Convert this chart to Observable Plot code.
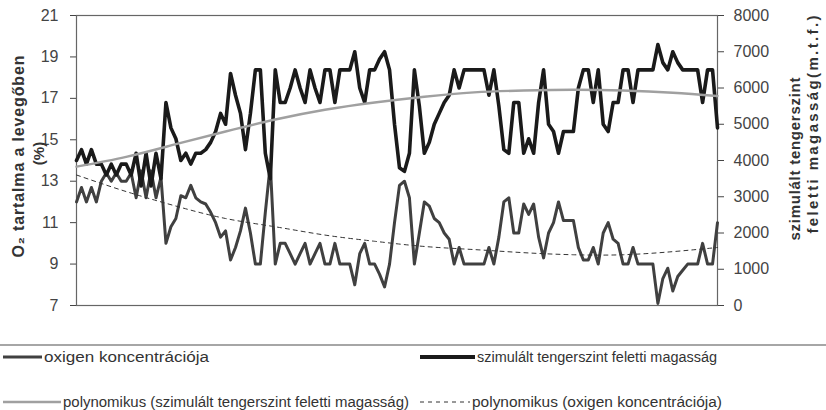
<!DOCTYPE html>
<html><head><meta charset="utf-8">
<script src="https://cdn.jsdelivr.net/npm/d3@7"></script>
<script src="https://cdn.jsdelivr.net/npm/@observablehq/plot@0.6"></script>
<style>
body{margin:0;background:#fff;font-family:"Liberation Sans",Arial,sans-serif;}
#wrap{position:relative;width:826px;height:410px;overflow:hidden;}
#chart{position:absolute;left:0;top:0;}
#legend{position:absolute;left:0;top:330px;}
</style></head><body>
<div id="wrap"><div id="chart"></div><svg id="legend" width="826" height="80"></svg></div>
<script>
// simulated altitude above sea level (m) — right axis
const altitude = [
4000,4300,3900,4300,3900,3900,3600,3900,3600,3900,
3900,3600,4200,3300,4200,3300,4200,3500,5600,4900,
4600,4000,4200,3900,4200,4200,4300,4500,4800,5300,
5000,6400,5800,5300,4300,5300,6500,6500,4200,3500,
6500,5600,5600,6000,6500,6000,5600,6500,6000,5600,
6500,6500,5600,6500,6500,6500,7000,6000,5600,6500,
6500,6800,7000,6500,5000,3800,3700,4200,6500,5500,
4200,4500,5000,5300,5600,5800,6500,6000,6500,6500,
6500,6500,6500,5800,6500,5500,4300,4200,5600,5600,
4200,4600,4200,5600,6500,5000,4800,4200,4800,4800,
4800,6000,6500,6500,5600,6500,5000,4800,5600,5600,
6500,6500,5600,6500,6500,6500,6500,7200,6700,6500,
7000,6700,6500,6500,6500,6500,5600,6500,6500,4900];
// oxygen concentration (%) — left axis
const oxygen = [
12.0,12.7,12.0,12.7,12.0,13.0,13.4,13.0,13.4,13.0,
13.0,13.4,12.2,13.5,12.2,13.5,12.2,13.2,10.0,10.8,
11.2,12.3,12.2,12.8,12.2,12.0,11.9,11.5,11.0,10.3,
10.6,9.2,9.8,10.6,11.7,10.5,9.0,9.0,11.5,13.8,
9.0,10.0,10.0,9.5,9.0,9.5,10.0,9.0,9.5,10.0,
9.0,9.0,10.0,9.0,9.0,9.0,8.0,9.5,10.0,9.0,
9.0,8.5,7.9,9.0,11.0,12.8,13.0,12.2,9.0,10.5,
12.0,11.8,11.2,11.0,10.5,10.2,9.0,9.8,9.0,9.0,
9.0,9.0,9.0,9.8,9.0,10.3,12.0,12.2,10.5,10.5,
11.9,11.4,11.9,10.3,9.3,10.5,11.0,12.0,11.1,11.1,
11.1,9.8,9.2,9.2,9.8,9.0,10.5,11.0,10.2,10.0,
9.0,9.0,9.8,9.0,9.0,9.0,9.0,7.1,8.3,8.8,
7.7,8.4,8.7,9.0,9.0,9.0,10.0,9.0,9.0,11.0];
// polynomial trend lines, read at sample positions
const trendIdx = [0,10,20,30,40,50,60,70,80,90,100,110,120,129];
const altTrend = [3830,4100,4450,4800,5130,5400,5600,5760,5880,5930,5950,5930,5870,5780];
const o2Trend = [13.3,12.5,11.8,11.2,10.8,10.4,10.1,9.85,9.7,9.55,9.45,9.45,9.6,9.8];
// tick labels
const leftTicks = [7,9,11,13,15,17,19,21];
const rightTicks = [0,1000,2000,3000,4000,5000,6000,7000,8000];
// texts
const leftTitle1 = "O₂ tartalma a levegőben";
const leftTitle2 = "(%)";
const rightTitle1 = "szimulált tengerszint";
const rightTitle2 = "feletti magasság(m.t.f.)";
const legendLabels = ["oxigen koncentrációja","szimulált tengerszint feletti magasság","polynomikus (szimulált tengerszint feletti magasság)","polynomikus (oxigen koncentrációja)"];

const ALT_MAX = 8000, Y0 = 7, Y1 = 21;
const toLeft = a => Y0 + a / ALT_MAX * (Y1 - Y0);
const rows = altitude.map((a, i) => ({i, alt: toLeft(a), o2: oxygen[i]}));
const trend = trendIdx.map((i, k) => ({i, alt: toLeft(altTrend[k]), o2: o2Trend[k]}));

const font = '"Liberation Sans", Arial, sans-serif';
const chart = Plot.plot({
  width: 826, height: 325,
  marginLeft: 76, marginRight: 109, marginTop: 15, marginBottom: 20,
  x: {domain: [0, altitude.length - 1], axis: null},
  y: {domain: [Y0, Y1], axis: null},
  style: {fontFamily: font, fontSize: "16px", color: "#444", background: "#fff", overflow: "visible"},
  marks: [
    Plot.frame({stroke: "#666", strokeWidth: 1.2}),
    Plot.axisY(leftTicks, {anchor: "left", tickSize: 6, tickPadding: 12, label: null, stroke: "#444", fill: "#444", fontSize: 16}),
    Plot.axisY(rightTicks.map(toLeft), {anchor: "right", tickSize: 6, tickPadding: 10, label: null, stroke: "#444", fill: "#444", fontSize: 16,
      tickFormat: d => String(Math.round((d - Y0) / (Y1 - Y0) * ALT_MAX))}),
    Plot.line(rows, {x: "i", y: "o2", stroke: "#404040", strokeWidth: 3}),
    Plot.line(rows, {x: "i", y: "alt", stroke: "#1a1a1a", strokeWidth: 3.6}),
    Plot.line(trend, {x: "i", y: "alt", stroke: "#a0a0a0", strokeWidth: 2.4, curve: "natural"}),
    Plot.line(trend, {x: "i", y: "o2", stroke: "#333", strokeWidth: 1, strokeDasharray: "4,4", curve: "natural"}),
    Plot.text([leftTitle1], {frameAnchor: "left", textAnchor: "middle", dx: -58, dy: -4, rotate: -90, fontWeight: "bold", fontSize: 16, fill: "#333", className: "lt1"}),
    Plot.text([leftTitle2], {frameAnchor: "left", textAnchor: "middle", dx: -37, dy: -7, rotate: -90, fontWeight: "bold", fontSize: 15, fill: "#333"}),
    Plot.text([rightTitle1], {frameAnchor: "right", dx: 78, dy: 80, rotate: -90, textAnchor: "start", fontWeight: "bold", fontSize: 15, fill: "#333", className: "rt1"}),
    Plot.text([rightTitle2], {frameAnchor: "right", dx: 96, dy: 73, rotate: -90, textAnchor: "start", fontWeight: "bold", fontSize: 15, fill: "#333", className: "rt2"})
  ]
});
document.getElementById("chart").appendChild(chart);
// stretch title texts to the reference's lengths
d3.select(chart).selectAll(".lt1 text").attr("textLength", 202).attr("lengthAdjust", "spacing");
d3.select(chart).selectAll(".rt1 text").attr("textLength", 163).attr("lengthAdjust", "spacing");
d3.select(chart).selectAll(".rt2 text").attr("textLength", 218).attr("lengthAdjust", "spacing");

// legend (below the svg)
const lg = d3.select("#legend");
lg.append("line").attr("x1", 0).attr("x2", 826).attr("y1", 15).attr("y2", 15).attr("stroke", "#888").attr("stroke-width", 1.5);
const items = [
  {x: 3, w: 39, y: 27, stroke: "#404040", sw: 3, dash: null, len: 165},
  {x: 420, w: 55, y: 27, stroke: "#1a1a1a", sw: 4, dash: null, len: 240},
  {x: 3, w: 58, y: 72, stroke: "#a0a0a0", sw: 2.5, dash: null, len: 346},
  {x: 420, w: 50, y: 72, stroke: "#333", sw: 1, dash: "4,4", len: 250}
];
items.forEach((it, k) => {
  lg.append("line").attr("x1", it.x).attr("x2", it.x + it.w).attr("y1", it.y).attr("y2", it.y)
    .attr("stroke", it.stroke).attr("stroke-width", it.sw).attr("stroke-dasharray", it.dash);
  lg.append("text").attr("x", it.x + it.w + 2).attr("y", it.y).attr("dy", "0.35em")
    .attr("font-family", font).attr("font-size", 14).attr("fill", "#333")
    .attr("textLength", it.len).attr("lengthAdjust", "spacingAndGlyphs").text(legendLabels[k]);
});
</script>
</body></html>
